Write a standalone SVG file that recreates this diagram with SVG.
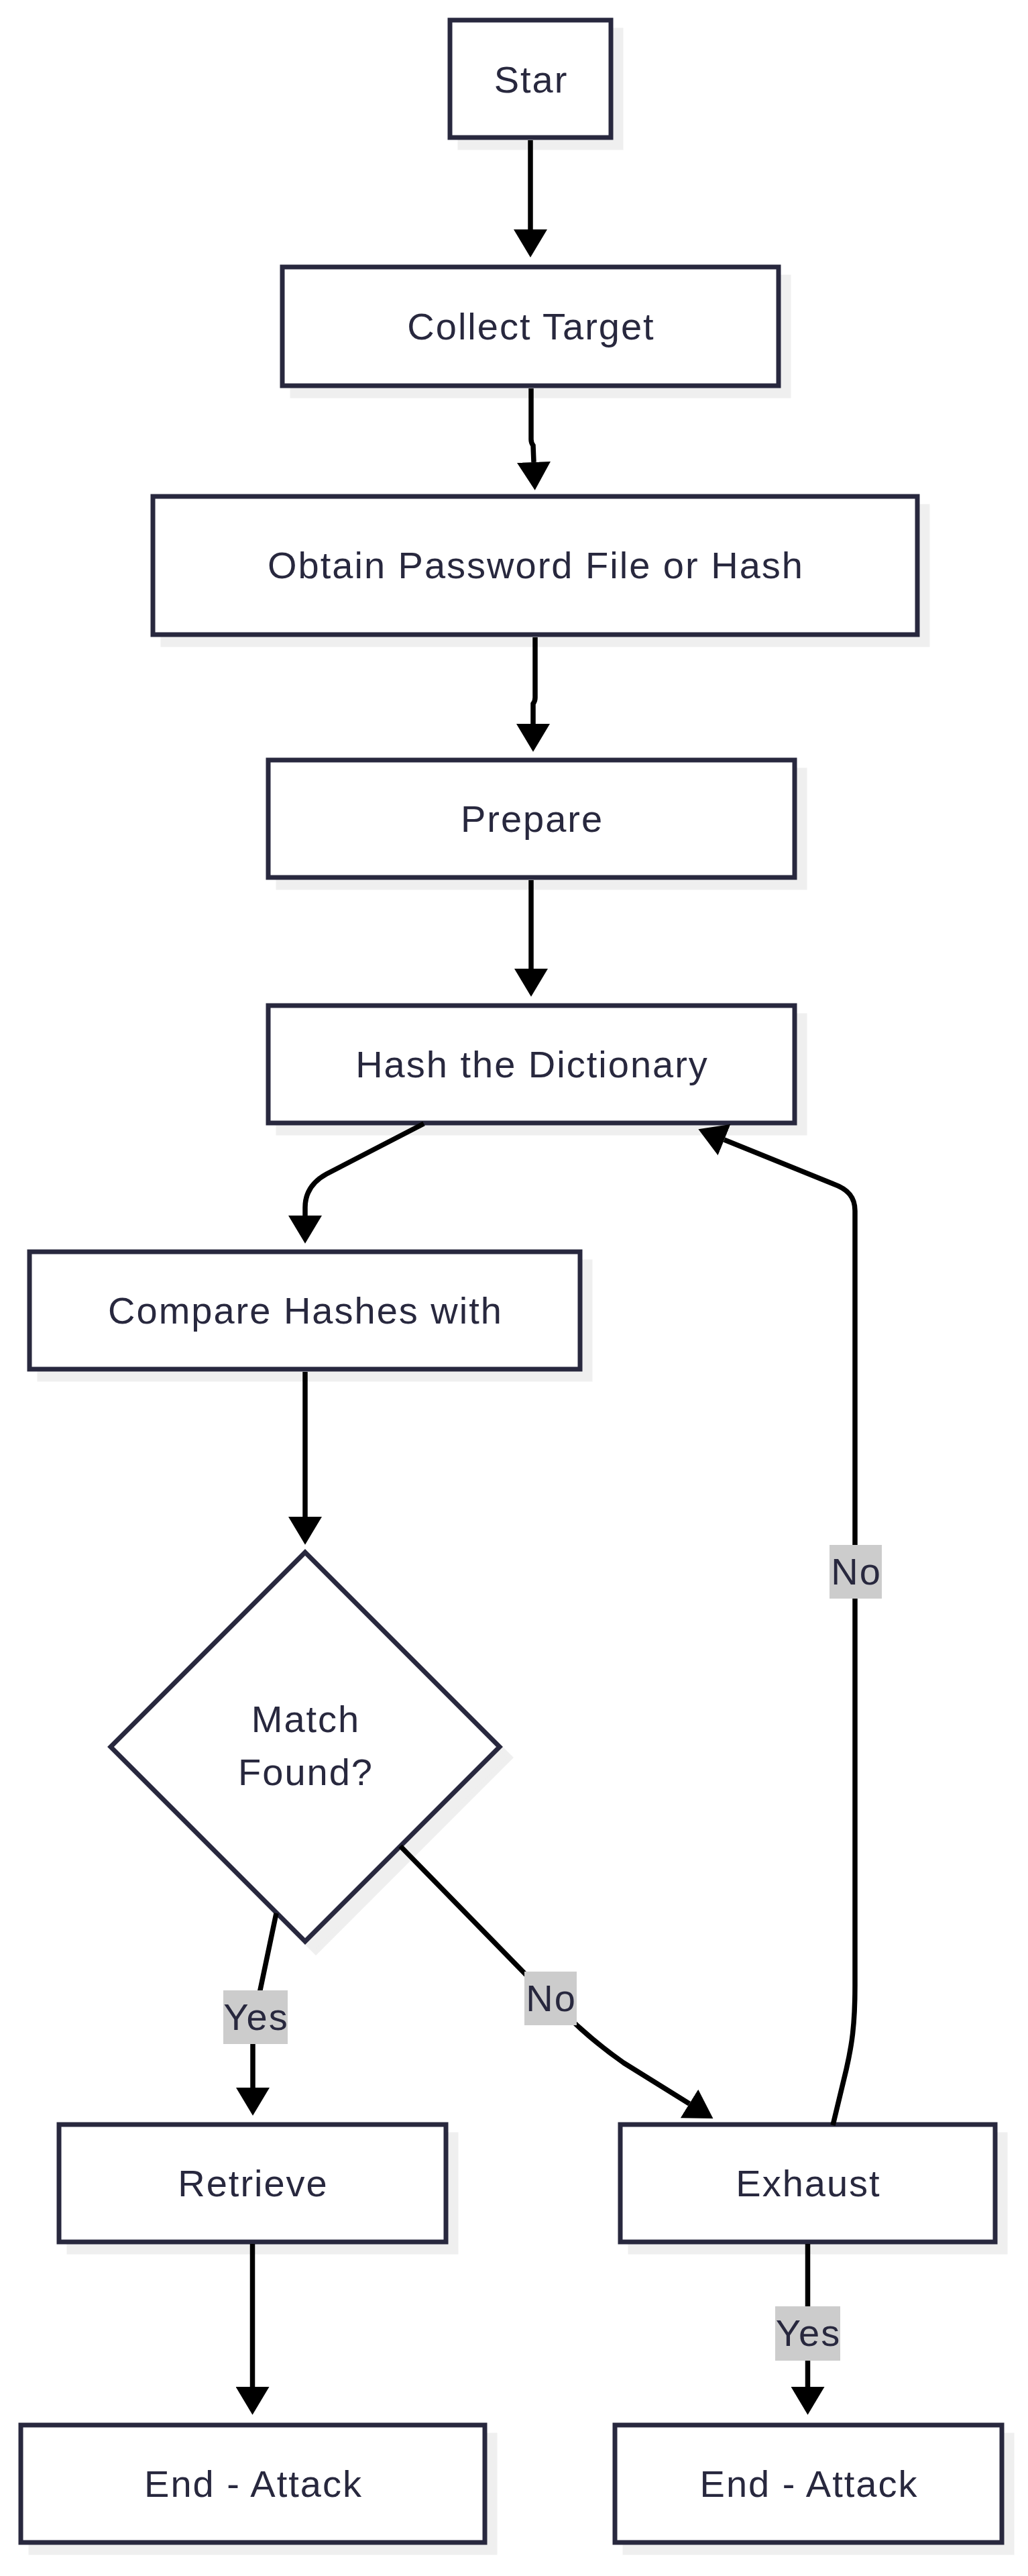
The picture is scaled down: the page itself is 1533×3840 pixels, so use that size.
<svg xmlns="http://www.w3.org/2000/svg" width="1533" height="3840" viewBox="0 0 1533 3840">
<style>
.box{fill:#ffffff;stroke:#28283e;stroke-width:7}
.shadow{fill:#efefef;stroke:#efefef;stroke-width:7}
.t{font-family:"Liberation Sans","Noto Sans",Arial,sans-serif;font-size:56px;fill:#28283e;text-anchor:middle;letter-spacing:2px}
.e{fill:none;stroke:#000000;stroke-width:7.5}
.lbg{fill:#cccccc}
</style>
<defs>
<marker id="arr" markerUnits="userSpaceOnUse" markerWidth="42" markerHeight="50" refX="0" refY="24" orient="auto" viewBox="0 0 40 48">
<path d="M0,0 L40,24 L0,48 z" fill="#000000"/>
</marker>
</defs>
<rect width="1533" height="3840" fill="#ffffff"/>

<g id="node-star">
<rect class="shadow" x="686" y="45" width="240" height="175"/>
<rect class="box" x="671" y="30" width="240" height="175"/>
<text class="t" x="792" y="138">Star</text>
</g>
<g id="node-collect">
<rect class="shadow" x="436" y="413" width="740" height="177"/>
<rect class="box" x="421" y="398" width="740" height="177"/>
<text class="t" x="792" y="506">Collect Target</text>
</g>
<g id="node-obtain">
<rect class="shadow" x="243" y="755" width="1140" height="206"/>
<rect class="box" x="228" y="740" width="1140" height="206"/>
<text class="t" x="799" y="862">Obtain Password File or Hash</text>
</g>
<g id="node-prepare">
<rect class="shadow" x="415" y="1148" width="785" height="175"/>
<rect class="box" x="400" y="1133" width="785" height="175"/>
<text class="t" x="793.5" y="1240">Prepare</text>
</g>
<g id="node-hash">
<rect class="shadow" x="415" y="1514" width="785" height="175"/>
<rect class="box" x="400" y="1499" width="785" height="175"/>
<text class="t" x="793.5" y="1606">Hash the Dictionary</text>
</g>
<g id="node-compare">
<rect class="shadow" x="59" y="1881" width="821" height="175"/>
<rect class="box" x="44" y="1866" width="821" height="175"/>
<text class="t" x="455.5" y="1973">Compare Hashes with</text>
</g>
<g id="node-match">
<polygon class="shadow" points="471,2330 761,2620 471,2910 181,2620"/>
<polygon class="box" points="455,2314 745,2604 455,2894 165,2604"/>
<text class="t" x="456" y="2582">Match</text>
<text class="t" x="456" y="2661">Found?</text>
</g>
<g id="node-retrieve">
<rect class="shadow" x="103" y="3182" width="577" height="175"/>
<rect class="box" x="88" y="3167" width="577" height="175"/>
<text class="t" x="377.5" y="3274">Retrieve</text>
</g>
<g id="node-exhaust">
<rect class="shadow" x="940" y="3182" width="559" height="175"/>
<rect class="box" x="925" y="3167" width="559" height="175"/>
<text class="t" x="1205.5" y="3274">Exhaust</text>
</g>
<g id="node-end1">
<rect class="shadow" x="46" y="3630" width="692" height="175"/>
<rect class="box" x="31" y="3615" width="692" height="175"/>
<text class="t" x="378" y="3722">End - Attack</text>
</g>
<g id="node-end2">
<rect class="shadow" x="932" y="3630" width="577" height="175"/>
<rect class="box" x="917" y="3615" width="577" height="175"/>
<text class="t" x="1206.5" y="3722">End - Attack</text>
</g>

<g id="connectors">
<path class="e" marker-end="url(#arr)" d="M791,209 L791,342"/>
<path class="e" marker-end="url(#arr)" d="M792,579 L792,655 Q792,660 795,664 L796,689"/>
<path class="e" marker-end="url(#arr)" d="M798,950 L798,1040 Q798,1045 795,1049 L795,1079"/>
<path class="e" marker-end="url(#arr)" d="M792,1312 L792,1444"/>
<path class="e" marker-end="url(#arr)" d="M632,1675 L487,1750 C465,1762 455,1780 455,1800 L455,1812"/>
<path class="e" marker-end="url(#arr)" d="M455,2045 L455,2261"/>
<path class="e" marker-end="url(#arr)" d="M412,2852 L381,3000 Q378,3020 377,3045 L377,3112"/>
<path class="e" marker-end="url(#arr)" d="M597,2752 L810,2970 C850,3010 880,3040 930,3075 L1028,3136"/>
<path class="e" marker-end="url(#arr)" d="M1242,3168 L1262,3085 C1270,3050 1275,3020 1275,2960 L1275,1805 C1275,1785 1265,1773 1243,1765 L1080,1699"/>
<path class="e" marker-end="url(#arr)" d="M376.5,3345 L376.5,3558"/>
<path class="e" marker-end="url(#arr)" d="M1204.5,3345 L1204.5,3558"/>
<g id="edge-labels">
<rect class="lbg" x="333" y="2967" width="96" height="80"/>
<text class="t" x="382" y="3026">Yes</text>
<rect class="lbg" x="782" y="2939" width="78" height="80"/>
<text class="t" x="822" y="2998">No</text>
<rect class="lbg" x="1237" y="2303" width="78" height="80"/>
<text class="t" x="1277" y="2362">No</text>
<rect class="lbg" x="1156" y="3438" width="97" height="81"/>
<text class="t" x="1205.5" y="3497">Yes</text>
</g>
</g>
</svg>
